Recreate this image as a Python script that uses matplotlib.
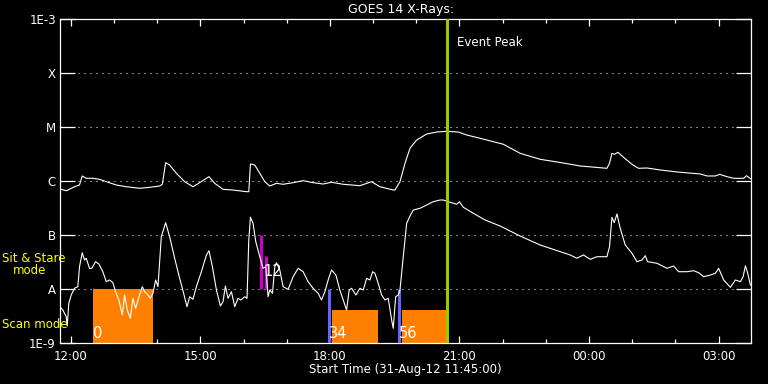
import matplotlib
matplotlib.use("Agg")
import matplotlib.pyplot as plt
import numpy as np

# time axis: hours after start time 31-Aug-12 11:45:00
long_t = [0.0, 0.151, 0.336, 0.452, 0.515, 0.607, 0.760, 0.916, 1.071, 1.303, 1.535, 1.843,
          2.075, 2.307, 2.370, 2.446, 2.539, 2.694, 2.887, 3.079, 3.234, 3.450, 3.582, 3.775,
          4.007, 4.317, 4.371, 4.410, 4.510, 4.626, 4.742, 4.858, 5.013, 5.166, 5.398, 5.630,
          5.861, 6.093, 6.288, 6.557, 6.944, 7.215, 7.408, 7.716, 7.756, 7.872, 7.988, 8.104,
          8.259, 8.491, 8.723, 8.954, 9.223, 9.418, 9.726, 10.267, 10.654, 11.118, 11.581,
          12.045, 12.664, 12.724, 12.780, 12.840, 12.919, 13.049, 13.244, 13.397, 13.591,
          13.900, 14.287, 14.827, 14.983, 15.175, 15.275, 15.446, 15.599, 15.831, 15.894, 15.987]
long_logf = [-6.148, -6.180, -6.106, -6.074, -5.907, -5.950, -5.950, -5.969, -6.013, -6.074,
             -6.106, -6.135, -6.117, -6.093, -6.061, -5.661, -5.704, -5.857, -6.013, -6.106,
             -6.031, -5.920, -6.043, -6.154, -6.167, -6.198, -6.198, -5.685, -5.704, -5.857,
             -6.013, -6.093, -6.043, -6.061, -6.031, -5.994, -6.031, -6.056, -6.024, -6.061,
             -6.087, -6.013, -6.106, -6.167, -6.167, -6.013, -5.672, -5.394, -5.241, -5.130,
             -5.093, -5.080, -5.093, -5.148, -5.209, -5.320, -5.487, -5.598, -5.657, -5.722,
             -5.765, -5.672, -5.487, -5.506, -5.469, -5.561, -5.691, -5.765, -5.759, -5.796,
             -5.833, -5.870, -5.907, -5.907, -5.876, -5.920, -5.950, -5.950, -5.902, -5.957]

short_t = [0.0, 0.065, 0.144, 0.167, 0.204, 0.260, 0.336, 0.413, 0.452, 0.515, 0.568, 0.607,
           0.684, 0.737, 0.823, 0.900, 0.992, 1.071, 1.148, 1.224, 1.287, 1.363, 1.442, 1.495,
           1.558, 1.628, 1.688, 1.750, 1.843, 1.906, 1.959, 2.036, 2.091, 2.152, 2.214, 2.268,
           2.346, 2.446, 2.539, 2.655, 2.771, 2.863, 2.940, 3.003, 3.079, 3.158, 3.274, 3.390,
           3.450, 3.529, 3.622, 3.714, 3.775, 3.830, 3.891, 3.969, 4.046, 4.122, 4.185, 4.278,
           4.331, 4.371, 4.410, 4.470, 4.533, 4.626, 4.702, 4.765, 4.818, 4.857, 4.920, 4.973,
           5.013, 5.089, 5.166, 5.282, 5.398, 5.514, 5.630, 5.745, 5.861, 5.977, 6.056, 6.133,
           6.209, 6.288, 6.388, 6.480, 6.557, 6.636, 6.696, 6.752, 6.851, 6.944, 7.021, 7.100,
           7.176, 7.239, 7.292, 7.368, 7.447, 7.524, 7.600, 7.679, 7.716, 7.772, 7.832, 7.872,
           7.948, 8.027, 8.104, 8.180, 8.335, 8.644, 8.799, 8.876, 9.031, 9.186, 9.247, 9.339,
           9.571, 9.842, 10.190, 10.654, 11.118, 11.581, 11.813, 11.968, 12.121, 12.277, 12.432,
           12.664, 12.724, 12.780, 12.833, 12.896, 12.972, 13.088, 13.244, 13.360, 13.476,
           13.552, 13.606, 13.824, 14.055, 14.208, 14.324, 14.519, 14.672, 14.788, 14.904,
           15.059, 15.175, 15.251, 15.367, 15.523, 15.639, 15.755, 15.817, 15.871, 15.924, 15.987]
short_logf = [-8.328, -8.389, -8.513, -8.685, -8.265, -8.111, -7.987, -7.957, -7.587, -7.328,
              -7.463, -7.431, -7.617, -7.617, -7.494, -7.537, -7.680, -7.865, -7.833, -7.883,
              -8.050, -8.204, -8.481, -8.111, -8.389, -8.543, -8.172, -8.357, -8.111, -7.957,
              -8.050, -8.111, -8.172, -8.080, -7.833, -7.957, -7.031, -6.772, -7.031, -7.431,
              -7.802, -8.080, -8.328, -8.143, -8.191, -7.957, -7.680, -7.370, -7.291, -7.587,
              -8.019, -8.315, -8.235, -7.944, -8.172, -8.050, -8.328, -8.172, -8.204, -8.143,
              -8.172, -7.093, -6.672, -6.783, -7.124, -7.402, -7.617, -7.587, -8.143, -8.019,
              -8.080, -7.587, -7.513, -7.648, -7.957, -8.006, -7.772, -7.617, -7.680, -7.865,
              -7.987, -8.080, -8.204, -8.050, -7.833, -7.648, -7.741, -8.019, -8.204, -8.389,
              -8.019, -7.987, -8.111, -7.987, -8.019, -7.802, -7.833, -7.680, -7.709, -7.894,
              -8.111, -8.204, -8.172, -8.574, -8.728, -8.143, -8.111, -8.019, -7.402, -6.783,
              -6.648, -6.537, -6.506, -6.383, -6.352, -6.352, -6.394, -6.431, -6.383, -6.487,
              -6.598, -6.722, -6.833, -7.019, -7.185, -7.309, -7.370, -7.431, -7.370, -7.450,
              -7.402, -7.402, -7.217, -6.672, -6.772, -6.611, -6.876, -7.185, -7.339, -7.494,
              -7.463, -7.383, -7.494, -7.524, -7.617, -7.574, -7.680, -7.680, -7.661, -7.698,
              -7.772, -7.741, -7.709, -7.617, -7.833, -7.969, -7.833, -7.865, -7.772, -7.569,
              -7.709, -7.926]

# observation blocks (orange): start, end, top flux
scan_start = [0.754, 6.295, 7.918]
scan_end = [2.160, 7.361, 8.961]
scan_top = [1e-8, 4.1e-9, 4.1e-9]

# sit & stare (magenta) and scan markers (blue)
stare_t = [4.656, 4.772]
stare_top = [1e-7, 4.1e-8]
blue_t = [6.232, 7.855]

# event numbers (neighbouring events share one crowded label)
event_ids = ['0', '12', '34', '56']
event_t = [0.754, 4.700, 6.232, 7.855]
event_y = [1.53e-9, 2.07e-8, 1.53e-9, 1.53e-9]

peak_t = 8.961

ytick_vals = [1e-9, 1e-8, 1e-7, 1e-6, 1e-5, 1e-4, 1e-3]
ytick_labels = ['1E-9', 'A', 'B', 'C', 'M', 'X', '1E-3']
xtick_major = [0.25, 3.25, 6.25, 9.25, 12.25, 15.25]
xtick_labels = ['12:00', '15:00', '18:00', '21:00', '00:00', '03:00']
xtick_minor = [0.25 + k for k in range(16)]

fig = plt.figure(figsize=(7.68, 3.84), dpi=100, facecolor='black')
ax = fig.add_axes([60 / 768, 41 / 384, 691 / 768, 324 / 384], facecolor='black')
ax.set_yscale('log')
ax.set_xlim(0, 16)
ax.set_ylim(1e-9, 1e-3)

# dotted class levels
for lev in ytick_vals[1:-1]:
    ax.axhline(lev, color='white', lw=0.72, linestyle=(0, (1, 5)), zorder=1)

# orange blocks
for s, e, top in zip(scan_start, scan_end, scan_top):
    ax.fill_between([s, e], 1e-9, top, color='#ff8000', lw=0, zorder=2)

ax.vlines(stare_t, 1e-8, stare_top, color='#cc00cc', lw=2.2, zorder=3)
ax.vlines(blue_t, 1e-9, 1e-8, color='#6464ff', lw=2.2, zorder=3)

ax.plot(long_t, 10 ** np.array(long_logf), color='white', lw=0.8, zorder=4)
ax.plot(short_t, 10 ** np.array(short_logf), color='white', lw=0.8, zorder=4)

ax.axvline(peak_t, color='#99cc00', lw=2.2, zorder=5)
ax.text(peak_t + 0.23, 10 ** -3.44, 'Event Peak', color='white', fontsize=8.5,
        va='center', ha='left')

for lab, t, y in zip(event_ids, event_t, event_y):
    ax.text(t, y, lab, color='white', fontsize=10.5, ha='left', va='center', zorder=6)

# axes styling
for sp in ax.spines.values():
    sp.set_color('white')
    sp.set_linewidth(0.9)
ax.set_yticks(ytick_vals)
ax.set_yticklabels(ytick_labels)
ax.yaxis.set_minor_locator(matplotlib.ticker.NullLocator())
ax.tick_params(axis='y', which='major', direction='in', length=10.5, width=0.9,
               colors='white', left=True, right=True, labelsize=8.5, pad=3)
ax.set_xticks(xtick_major)
ax.set_xticklabels(xtick_labels)
ax.set_xticks(xtick_minor, minor=True)
ax.tick_params(axis='x', which='major', direction='in', length=5, width=0.9,
               colors='white', top=True, bottom=True, labelsize=8.5, pad=5)
ax.tick_params(axis='x', which='minor', direction='in', length=3, width=0.9,
               colors='white', top=True, bottom=True)

fig.text(401 / 768, 1 - 9 / 384, 'GOES 14 X-Rays:', color='white', fontsize=9,
         ha='center', va='center')
fig.text(405 / 768, 1 - 369 / 384, 'Start Time (31-Aug-12 11:45:00)', color='white',
         fontsize=8.5, ha='center', va='center')
fig.text(2 / 768, 1 - 259 / 384, 'Sit & Stare', color='yellow', fontsize=8.5,
         ha='left', va='center')
fig.text(13 / 768, 1 - 271 / 384, 'mode', color='yellow', fontsize=8.5,
         ha='left', va='center')
fig.text(2 / 768, 1 - 325 / 384, 'Scan mode', color='yellow', fontsize=8.5,
         ha='left', va='center')

fig.savefig('out.png', dpi=100, facecolor='black')
